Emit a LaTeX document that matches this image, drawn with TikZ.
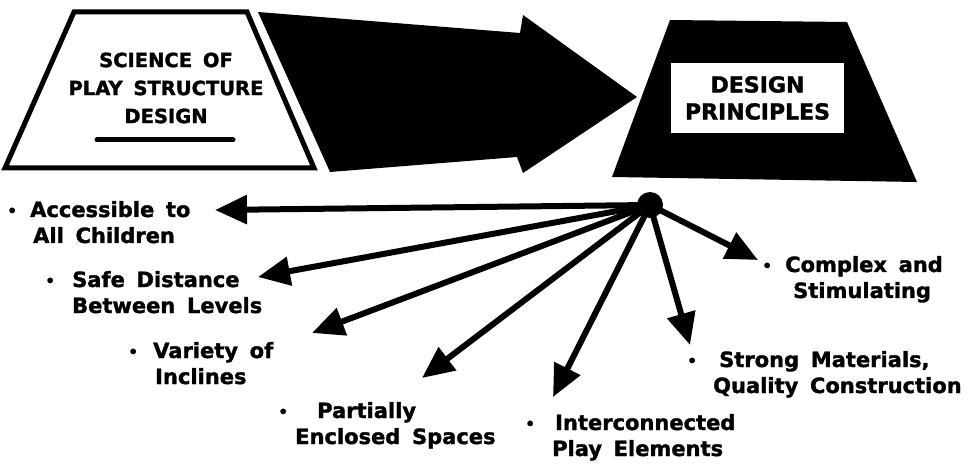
\documentclass[tikz,border=0pt]{standalone}
\usepackage{fontspec}
\setmainfont{DejaVu Sans}[WordSpace=1.6, BoldFeatures={FakeBold=1.5}]
\usetikzlibrary{arrows.meta}
\tikzset{
  lbl/.style={anchor=base west, align=left, inner sep=0pt, font=\bfseries\fontsize{21}{26}\selectfont},
  spoke/.style={line width=6pt, -{Triangle[length=32pt,width=28pt]}},
}
\newcommand{\dotitem}{\makebox[0pt][c]{\raisebox{1pt}{\fontsize{15}{15}\selectfont\textbullet}}}
\begin{document}
\begin{tikzpicture}[x=1pt,y=-1pt]
            \useasboundingbox (0,0) rectangle (972,465);
            % Trapezio da esquerda
            \draw[line width=5pt, fill=white] (74,12) -- (247,12) -- (314,168) -- (5,168) -- cycle;
            \node at (166,88) (sci) [align=center, inner sep=0pt, font=\bfseries\fontsize{19.5}{28}\selectfont] {SCIENCE OF\\PLAY STRUCTURE\\DESIGN};
            \draw[line width=5pt, line cap=round] (97,140) -- (233,140);
            % Seta grande
            \fill (258,12) -- (520,33) -- (523,15) -- (637,97) -- (523,173) -- (517,157) -- (330,172) -- cycle;
            % Trapezio da direita
            \fill (670,20) -- (847,22) -- (917,182) -- (612,177) -- cycle;
            \node at (757.5,98) (dp) [fill=white, minimum width=173pt, minimum height=70pt, align=center, font=\bfseries\fontsize{22}{27}\selectfont] {DESIGN\\PRINCIPLES};
            % Centro e rotulos (base = ultima linha)
            \node at (650,205) (hub) [circle, fill=black, minimum size=26pt, inner sep=0pt] {};
            \node at (12,243) (acc) [lbl] {\dotitem\hspace{18pt}Accessible to\\\hspace*{21pt}All Children};
            \node at (50,313) (safe) [lbl] {\dotitem\hspace{22pt}Safe Distance\\\hspace*{22pt}Between Levels};
            \node at (133,384) (var) [lbl] {\dotitem\hspace{20pt}Variety of\\\hspace*{22pt}Inclines};
            \node at (283,444) (encl) [lbl] {\dotitem\hspace{34pt}Partially\\\hspace*{12pt}Enclosed Spaces};
            \node at (530,456) (conn) [lbl] {\dotitem\hspace{25pt}Interconnected\\\hspace*{22pt}Play Elements};
            \node at (692,393) (mat) [lbl] {\dotitem\hspace{27pt}Strong Materials,\\\hspace*{21pt}Quality Construction};
            \node at (767,298) (cplx) [lbl] {\dotitem\hspace{18pt}Complex and\\\hspace*{26pt}Stimulating};
            % Pontas das setas
            \coordinate (tacc) at (215,210);
            \coordinate (tsafe) at (258,277);
            \coordinate (tvar) at (312,333);
            \coordinate (tencl) at (422,378);
            \coordinate (tconn) at (553,397);
            \coordinate (tmat) at (690,345);
            \coordinate (tcplx) at (758,260);
            \draw[spoke] (hub.center) -- (tacc);
            \draw[spoke] (hub.center) -- (tsafe);
            \draw[spoke] (hub.center) -- (tvar);
            \draw[spoke] (hub.center) -- (tencl);
            \draw[spoke] (hub.center) -- (tconn);
            \draw[spoke] (hub.center) -- (tmat);
            \draw[spoke] (hub.center) -- (tcplx);
        \end{tikzpicture}
\end{document}
